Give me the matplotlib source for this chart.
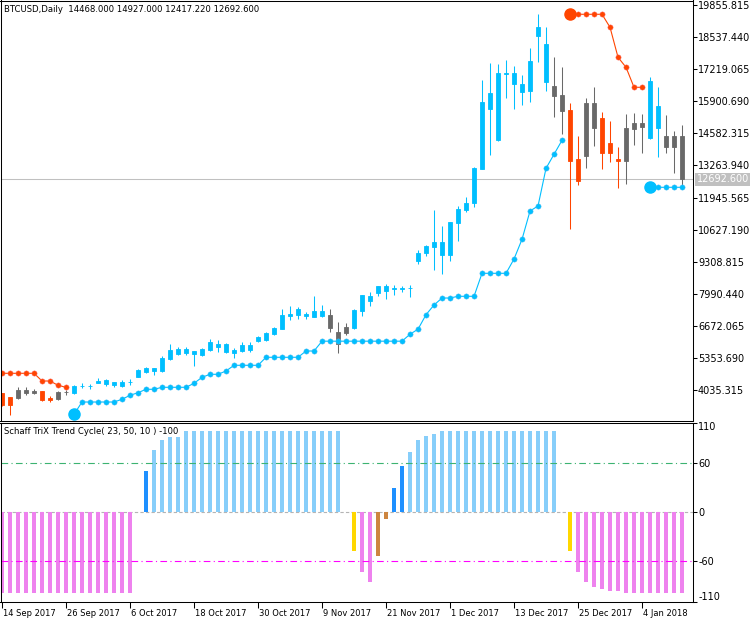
import numpy as np
import matplotlib
matplotlib.use("Agg")
import matplotlib.pyplot as plt
from matplotlib.transforms import ScaledTranslation, blended_transform_factory

# --- BTCUSD daily candles (14 Sep 2017 .. 11 Jan 2018, weekdays) ---
opens = [3900, 3735, 3720, 3900, 3900, 3995, 3694, 3666, 3945, 3900,
         4205, 4195, 4336, 4282, 4241, 4213, 4345, 4583, 4789, 4817,
         4829, 5310, 5515, 5570, 5515, 5487, 5680, 5791, 5586, 5557,
         5626, 5692, 6062, 6091, 6337, 6542, 7064, 7117, 7064, 7049,
         7090, 7117, 6432, 6625, 6584, 7294, 7705, 8034, 8116, 8195,
         8190, 8210, 9348, 9652, 9924, 9583, 9583, 10886, 11432, 11732,
         13117, 15582, 14309, 17021, 16610, 16269, 16334, 18594, 16704, 16527,
         16158, 15541, 13528, 13664, 14814, 15213, 14185, 13528, 13458, 14773,
         14855, 14403, 14814, 14473, 14473, 14468]
highs = [3915, 3760, 4172, 4147, 4089, 4000, 3790, 4007, 4036, 4241,
         4311, 4295, 4529, 4488, 4377, 4447, 4475, 4887, 4994, 4945,
         5433, 5926, 5815, 5815, 5651, 5762, 6132, 6091, 5980, 5749,
         6009, 6009, 6268, 6432, 6638, 7364, 7487, 7459, 7241, 7898,
         7528, 7352, 6818, 6801, 7364, 7945, 8075, 8315, 8391, 8350,
         8322, 8350, 9789, 9994, 11432, 10775, 10952, 11597, 11954, 13212,
         16774, 17485, 17431, 17596, 17349, 16979, 18077, 19486, 18964, 17732,
         17321, 15817, 14473, 16047, 16474, 15447, 15089, 14033, 15389, 15418,
         15389, 16897, 16474, 15336, 14678, 14927]
lows = [3380, 2990, 3666, 3831, 3859, 3584, 3530, 3637, 3818, 3872,
        4118, 4065, 4330, 4212, 4172, 4172, 4254, 4558, 4748, 4652,
        4796, 5269, 5474, 5487, 5022, 5446, 5651, 5610, 5544, 5351,
        5598, 5598, 5996, 6050, 6296, 6530, 6912, 6941, 6941, 7024,
        7024, 6432, 5569, 6296, 6534, 7089, 7487, 7911, 7788, 7940,
        8063, 7845, 9213, 9542, 8967, 8802, 9349, 10171, 11363, 11568,
        13100, 13692, 14268, 16022, 15582, 15747, 15882, 17526, 16334, 15266,
        14555, 10652, 12460, 13171, 14062, 13105, 13405, 12349, 12513, 14116,
        13787, 14337, 13622, 13787, 12965, 12417.22]
closes = [3410, 3400, 4036, 4036, 4007, 3625, 3625, 3966, 3960, 4200,
          4220, 4210, 4406, 4447, 4352, 4377, 4360, 4858, 4928, 4940,
          5339, 5680, 5721, 5721, 5626, 5721, 6009, 5926, 5939, 5692,
          5873, 5885, 6201, 6366, 6572, 7117, 7171, 7364, 7171, 7282,
          7282, 6571, 5914, 6378, 7323, 7940, 7898, 8309, 8322, 8225,
          8210, 8240, 9652, 9953, 10130, 10130, 10927, 11461, 11708, 13171,
          15882, 16228, 17074, 17074, 17074, 16610, 17555, 18964, 18266, 16129,
          15513, 13458, 12624, 15829, 15829, 13787, 13787, 13458, 14802, 15007,
          15007, 16733, 15706, 14033, 14033, 12692.6]
# b = up colour, g = counter colour, r = down colour
candle_kind = list("rrgggrrgg" + "b" * 32 + "ggg" + "b" * 25 + "ggrrggrrrgggbbggg")

# trailing stop dots (nan = not shown)
nan = np.nan
stop_up = [nan] * 9 + [3037, 3543, 3543, 3543, 3543, 3543, 3654, 3818, 3925, 4065,
           4065, 4147, 4147, 4147, 4147, 4311, 4558, 4681, 4681, 4817,
           5051, 5051, 5051, 5051, 5380, 5380, 5380, 5380, 5380, 5639,
           5639, 6042, 6042, 6042, 6042, 6042, 6042, 6042, 6042, 6042,
           6042, 6042, 6329, 6534, 7130, 7529, 7816, 7816, 7886, 7886,
           7886, 8831, 8831, 8831, 8831, 9419, 10228, 11391, 11597, 13146,
           13721, 14296] + [nan] * 10 + [12365, 12365, 12365, 12365, 12365]
stop_dn = [4722, 4722, 4722, 4722, 4722, 4406, 4406, 4229, 4147] + [nan] * 62 + \
          [19474, 19474, 19474, 19474, 19474, 18940, 17707, 17296, 16474, 16474] + [nan] * 5
trend_starts_up = [9, 81]
trend_starts_dn = [71]

# Schaff TriX Trend Cycle histogram
stc = [-100, -100, -100, -100, -100, -100, -100, -100, -100, -100,
       -100, -100, -100, -100, -100, -100, -100, 0, 50, 76,
       88, 92, 92, 99, 99, 100, 100, 100, 100, 100,
       100, 100, 100, 100, 100, 100, 100, 100, 100, 100,
       100, 100, 100, 0, -48, -74, -86, -54, -8, 30,
       57, 74, 88, 94, 96, 99, 99, 100, 100, 100,
       100, 100, 100, 100, 100, 100, 100, 100, 100, 100,
       0, -48, -74, -86, -92, -95, -97, -97, -99, -100,
       -100, -100, -100, -100, -100, -100]
stc_kind = list("v" * 17 + "0" + "d" + "l" * 24 + "0" + "yvvppdd" + "l" * 19 + "0" + "y" + "v" * 14)

price_ticks = [19855.815, 18537.440, 17219.065, 15900.690, 14582.315, 13263.940,
               11945.565, 10627.190, 9308.815, 7990.440, 6672.065, 5353.690, 4035.315]
date_pos = [0, 8, 16, 24, 32, 40, 48, 56, 64, 72, 80]
date_labels = ["14 Sep 2017", "26 Sep 2017", "6 Oct 2017", "18 Oct 2017", "30 Oct 2017",
               "9 Nov 2017", "21 Nov 2017", "1 Dec 2017", "13 Dec 2017", "25 Dec 2017",
               "4 Jan 2018"]

candle_col = {"b": "#00BFFF", "g": "#696969", "r": "#FF4500"}
hist_col = {"v": "#EE82EE", "l": "#87CEFA", "d": "#1E90FF", "y": "#FFD700",
            "p": "#CD853F", "0": "none"}

plt.rcParams["font.family"] = ["DejaVu Sans"]
plt.rcParams["font.size"] = 7

W, H = 755, 622
fig = plt.figure(figsize=(W / 100, H / 100), dpi=100)
ax = fig.add_axes([0.5 / W, 1 - 420.5 / H, 692 / W, 420 / H])
ax2 = fig.add_axes([0.5 / W, 1 - 601.5 / H, 692 / W, 179 / H])

n = len(opens)
x = np.arange(n)
xlim = (-0.19, 86.31)

# candles
for i in range(n):
    c = candle_col[candle_kind[i]]
    ax.vlines(i, lows[i], highs[i], color=c, lw=0.75)
    lo, hi = min(opens[i], closes[i]), max(opens[i], closes[i])
    ax.bar(i, hi - lo, bottom=lo, width=0.52, color=c, edgecolor=c, lw=0.6)

ax.axhline(closes[-1], color="#C0C0C0", lw=0.75, zorder=0)

ax.plot(x, stop_up, color="#00BFFF", lw=0.8, marker="o", ms=3.8, mec="#4FB8F0", mew=0.3)
ax.plot(x, stop_dn, color="#FF4500", lw=0.8, marker="o", ms=3.8, mec="#FF6A6A", mew=0.3)
ax.plot(trend_starts_up, [stop_up[i] for i in trend_starts_up], "o", color="#00BFFF", ms=8)
ax.plot(trend_starts_dn, [stop_dn[i] for i in trend_starts_dn], "o", color="#FF4500", ms=8)

ax.set_xlim(*xlim)
ax.set_ylim(20061.3 - 41.09 * 420.5, 20061.3 - 41.09 * 0.5)
ax.yaxis.tick_right()
ax.set_yticks(price_ticks)
ax.set_yticklabels([f"{p:.3f}" for p in price_ticks])
ax.tick_params(axis="y", length=3, pad=1, width=0.75)
ax.set_xticks([])
for s in ax.spines.values():
    s.set_linewidth(0.75)

ax.text(4 / 692, 1 - 9 / 420, "BTCUSD,Daily  14468.000 14927.000 12417.220 12692.600",
        transform=ax.transAxes, va="center", ha="left", fontsize=6.1)
tr = blended_transform_factory(ax.transAxes, ax.transData)
ax.text(1.006, closes[-1], f"{closes[-1]:.3f}", transform=tr, va="center", ha="left",
        color="white", bbox=dict(boxstyle="square,pad=0.15", fc="#C0C0C0", ec="none"))

# indicator window
hc = [hist_col[k] for k in stc_kind]
ax2.bar(x, stc, width=0.46, color=hc)
ax2.axhline(0, color="#B4B4B4", lw=0.8, ls=(0, (3, 2)), zorder=0)
ax2.axhline(60, color="#3CB371", lw=0.8, ls=(0, (6, 3, 1, 3)))
ax2.axhline(-60, color="#FF00FF", lw=0.8, ls=(0, (6, 3, 1, 3)))
ax2.set_xlim(*xlim)
ax2.set_ylim(-110, 110)
ax2.yaxis.tick_right()
ax2.set_yticks([110, 60, 0, -60, -110])
ax2.tick_params(axis="y", length=3, pad=1, width=0.75)
labs = ax2.set_yticklabels(["110", "60", "0", "-60", "-110"])
labs[0].set_va("top")
labs[-1].set_va("bottom")
ax2.set_xticks(date_pos)
ax2.set_xticklabels(date_labels, fontsize=6)
ax2.tick_params(axis="x", length=4, pad=1.5, width=0.75)
off = ScaledTranslation(1 / 100, 0, fig.dpi_scale_trans)
for lab in ax2.get_xticklabels():
    lab.set_ha("left")
    lab.set_transform(lab.get_transform() + off)
for s in ax2.spines.values():
    s.set_linewidth(0.75)
ax2.text(4 / 692, 1 - 9 / 179, "Schaff TriX Trend Cycle( 23, 50, 10 ) -100",
         transform=ax2.transAxes, va="center", ha="left", fontsize=6.1)

fig.savefig("out.png", dpi=100)
